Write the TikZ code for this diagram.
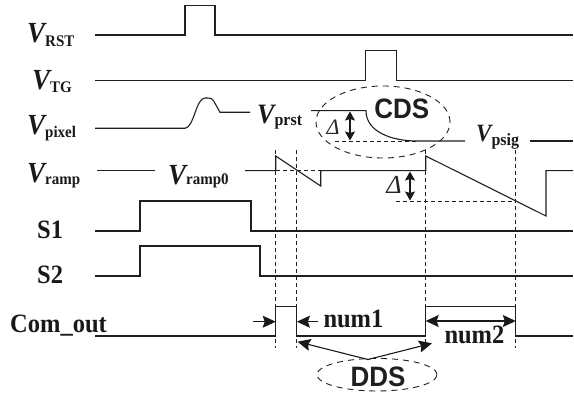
\documentclass[tikz,border=0pt]{standalone}
\usepackage{fontspec}
\setmainfont{Liberation Serif}
\newfontfamily\sansbold{Liberation Sans}
\usetikzlibrary{arrows.meta}
\newcommand{\Vsig}[4]{\scalebox{1}[1.08]{{\fontsize{#1}{#1}\selectfont\bfseries\itshape V}\raisebox{#4}{\fontsize{#3}{#3}\selectfont\bfseries #2}}}
\newcommand{\bigbf}[1]{\scalebox{1}[1.08]{\fontsize{24.5}{24.5}\selectfont\bfseries #1}}
\begin{document}
\begin{tikzpicture}[x=1pt,y=-1pt,
  sig/.style={line width=1.1pt, draw=black!88, line join=miter},
  guide/.style={line width=0.9pt, draw=black!88, dash pattern=on 4pt off 3pt},
  lbl/.style={inner sep=0pt, anchor=base west, text=black!90},
  arr/.style={line width=1.1pt, draw=black!90, -{Stealth[length=13pt,width=12pt,inset=2pt]}},
  dbl/.style={line width=1.1pt, draw=black!90, {Stealth[length=9pt,width=10pt,inset=1.5pt]}-{Stealth[length=9pt,width=10pt,inset=1.5pt]}},
  dblw/.style={line width=1.1pt, draw=black!90, {Stealth[length=13pt,width=12pt,inset=2pt]}-{Stealth[length=13pt,width=12pt,inset=2pt]}},
  bubble/.style={line width=0.9pt, draw=black!88, dash pattern=on 6pt off 5pt}]
\useasboundingbox (0,0) rectangle (574,393);

% left labels
\node[lbl] (vrst) at (27,43) {\Vsig{27}{RST}{15}{-3pt}};
\node[lbl] (vtg) at (32,90) {\Vsig{27}{TG}{15}{-2pt}};
\node[lbl] (vpix) at (27,135) {\Vsig{27}{pixel}{15}{-2pt}};
\node[lbl] (vramp) at (27,183) {\Vsig{27}{ramp}{15}{-1pt}};
\node[lbl] (s1) at (37,239) {\bigbf{S1}};
\node[lbl] (s2) at (37,284) {\bigbf{S2}};
\node[lbl] (com) at (10,333) {\bigbf{Com\_out}};

% inline labels
\node[lbl] (vprst) at (257,124) {\Vsig{26}{prst}{16}{-1pt}};
\node[lbl] (vpsig) at (476,142) {\Vsig{23}{psig}{16}{-3pt}};
\node[lbl] (vramp0) at (168,185) {\Vsig{27}{ramp0}{15}{0pt}};

% V_RST
\draw[sig] (95,35) -- (185,35) -- (185,5.7) -- (215,5.7) -- (215,35) -- (573,35);
% V_TG
\draw[sig] (95,80.7) -- (365.7,80.7) -- (365.7,50.7) -- (396.7,50.7) -- (396.7,80.7) -- (573,80.7);
% V_pixel
\draw[sig] (95,128.3) -- (185,128.3) .. controls (194,127.5) and (196,98) .. (205,98)
  .. controls (210,98) and (212,98) .. (214,101.5) -- (220,112.3) -- (250,112.3);
\draw[sig] (311,110.7) -- (366,110.7) .. controls (366,132) and (392,141) .. (417,141) -- (465,141);
\draw[sig] (530,141) -- (573,141);
\draw[guide] (335,141) -- (417,141);
\coordinate (d1t) at (350,111.5);
\coordinate (d1b) at (350,140.5);
\draw[dbl] (d1t) -- (d1b);
\node[inner sep=0pt, text=black!85] (delta1) at (333,127) {\fontsize{22}{22}\selectfont\itshape Δ};

% CDS bubble
\draw[bubble] (383,122) ellipse [x radius=67pt, y radius=36pt];
\node[inner sep=0pt, text=black!88] (cds) at (401.7,108.7) {\scalebox{1}[1.08]{\fontsize{26}{26}\selectfont\sansbold\bfseries CDS}};

% V_ramp
\draw[sig] (97,170.7) -- (155,170.7);
\draw[sig] (245,170.7) -- (275.7,170.7) -- (275.7,156) -- (320.7,186) -- (320.7,170.7) -- (425.7,170.7)
  -- (425.7,156) -- (546,216) -- (546,170.7) -- (573,170.7);
\draw[guide] (275.7,170.7) -- (320.7,170.7);
\draw[guide] (395.7,201) -- (516,201);
\coordinate (d2t) at (410,171.5);
\coordinate (d2b) at (410,200.5);
\draw[dbl] (d2t) -- (d2b);
\node[inner sep=0pt, text=black!85] (delta2) at (394,185) {\fontsize{26}{26}\selectfont\itshape Δ};

% S1, S2
\draw[sig] (95,231) -- (140,231) -- (140,201) -- (251,201) -- (251,231) -- (573,231);
\draw[sig] (95,276) -- (140,276) -- (140,246) -- (260,246) -- (260,276) -- (573,276);

% Com_out
\draw[sig] (95,336) -- (275.7,336) -- (275.7,306.7) -- (296.9,306.7) -- (296.9,336) -- (425.7,336)
  -- (425.7,306.7) -- (515.8,306.7) -- (515.8,336) -- (573,336);

% vertical guides
\coordinate (g1t) at (275.7,150); \coordinate (g1b) at (275.7,348);
\coordinate (g2t) at (296.9,150); \coordinate (g2b) at (296.9,348);
\coordinate (g3t) at (425.7,150); \coordinate (g3b) at (425.7,348);
\coordinate (g4t) at (515.8,150); \coordinate (g4b) at (515.8,348);
\draw[guide] (g1t) -- (g1b);
\draw[guide] (g2t) -- (g2b);
\draw[guide] (g3t) -- (g3b);
\draw[guide] (g4t) -- (g4b);

% count arrows
\coordinate (a1s) at (253,321.7); \coordinate (a1e) at (275.7,321.7);
\draw[arr] (a1s) -- (a1e);
\coordinate (a2s) at (318,321.7); \coordinate (a2e) at (296.9,321.7);
\draw[arr] (a2s) -- (a2e);
\node[lbl] (num1) at (323.3,327.3) {\bigbf{num1}};
\coordinate (a3s) at (425.7,321); \coordinate (a3e) at (515.8,321);
\draw[dblw] (a3s) -- (a3e);
\node[lbl] (num2) at (444.3,344) {\bigbf{num2}};

% DDS
\coordinate (apex) at (368,359.5);
\coordinate (ddsl) at (297.5,341.7);
\coordinate (ddsr) at (432,343.3);
\draw[arr] (apex) -- (ddsl);
\draw[arr] (apex) -- (ddsr);
\draw[bubble] (377,374.7) ellipse [x radius=60pt, y radius=16.3pt];
\node[inner sep=0pt, text=black!88] (dds) at (378,377) {\scalebox{1}[1.08]{\fontsize{26}{26}\selectfont\sansbold\bfseries DDS}};
\end{tikzpicture}
\end{document}
